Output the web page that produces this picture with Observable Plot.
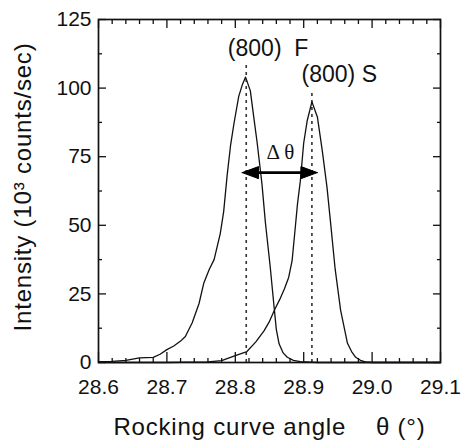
<!DOCTYPE html>
<html>
<head>
<meta charset="utf-8">
<script src="https://cdn.jsdelivr.net/npm/d3@7"></script>
<script src="https://cdn.jsdelivr.net/npm/@observablehq/plot@0.6"></script>
<style>
  html, body { margin: 0; padding: 0; background: #fff; }
  #chart { width: 463px; height: 441px; }
</style>
</head>
<body>
<div id="chart"></div>
<script>
// ---- data ----
const fAngle = [28.60, 28.62, 28.64, 28.66, 28.68, 28.69, 28.70, 28.71, 28.72, 28.727, 28.737, 28.747, 28.754, 28.762, 28.769, 28.778, 28.783, 28.788, 28.793, 28.798, 28.805, 28.810, 28.815, 28.822, 28.827, 28.832, 28.839, 28.844, 28.851, 28.857, 28.860, 28.864, 28.870, 28.876, 28.885, 28.895, 28.92, 29.10];
const fIntensity = [0.3, 0.4, 0.8, 1.7, 1.9, 3.0, 4.7, 6.0, 7.8, 9.5, 14.5, 21.5, 29, 34, 37.5, 47, 55, 68, 79, 87, 97, 101, 104, 99, 89.4, 80, 65, 51, 35, 19.5, 12, 6.8, 3.5, 1.9, 0.8, 0.3, 0, 0];

const sAngle = [28.60, 28.70, 28.76, 28.78, 28.80, 28.817, 28.83, 28.842, 28.85, 28.858, 28.865, 28.872, 28.878, 28.883, 28.888, 28.891, 28.895, 28.90, 28.905, 28.912, 28.92, 28.927, 28.934, 28.939, 28.946, 28.954, 28.959, 28.964, 28.970, 28.976, 28.983, 28.99, 29.00, 29.10];
const sIntensity = [0, 0, 0.2, 0.7, 2.5, 4.0, 7.5, 11.5, 15, 19.5, 23, 27, 31, 37, 50, 58, 66, 80, 88, 95, 89.5, 77.5, 64, 51.7, 34, 19, 13, 7, 4, 1.9, 0.8, 0.2, 0, 0];

const peakNames = ["(800)\u00A0\u00A0F", "(800)\u00A0S"];
const peakAngle = [28.816, 28.912];
const peakLineTop = [109, 99];
const peakLabelX = [28.848, 28.952];
const peakLabelY = [114.5, 105];

const deltaLabel = "\u0394 \u03B8";
const deltaLabelX = 28.866;
const deltaLabelY = 76.5;
const arrowFrom = 28.810;
const arrowTo = 28.920;
const arrowY = 69.2;

const xTicks = [28.6, 28.7, 28.8, 28.9, 29.0, 29.1];
const yTicks = [0, 25, 50, 75, 100, 125];
const xTitle = "Rocking curve angle\u00A0\u00A0\u00A0\u00A0\u03B8 (\u00B0)";
const yTitle = "Intensity (10\u00B3 counts/sec)";

// ---- derived tables ----
const fData = fAngle.map((a, i) => ({angle: a, intensity: fIntensity[i]}));
const sData = sAngle.map((a, i) => ({angle: a, intensity: sIntensity[i]}));
const peaks = peakNames.map((n, i) => ({name: n, angle: peakAngle[i], top: peakLineTop[i], lx: peakLabelX[i], ly: peakLabelY[i]}));
const xMinor = d3.range(0, 26).map(i => 28.6 + i * 0.02).filter(v => !xTicks.some(t => Math.abs(t - v) < 1e-6));
const yMinor = d3.range(0, 11).map(i => i * 12.5).filter(v => !yTicks.includes(v));

const headL = 0.024, headH = 2.2;
const heads = [
  {k: "l", x: arrowFrom, y: arrowY}, {k: "l", x: arrowFrom + headL, y: arrowY + headH}, {k: "l", x: arrowFrom + headL, y: arrowY - headH}, {k: "l", x: arrowFrom, y: arrowY},
  {k: "r", x: arrowTo, y: arrowY}, {k: "r", x: arrowTo - headL, y: arrowY + headH}, {k: "r", x: arrowTo - headL, y: arrowY - headH}, {k: "r", x: arrowTo, y: arrowY}
];

const blank = () => "";
const tickMarks = (ticks, major) => {
  const lenB = major ? -10 : -4, len = major ? -8 : -4;
  return [
    Plot.axisX(ticks, {anchor: "bottom", tickSize: lenB, tickFormat: blank, label: null, strokeWidth: 1.3}),
    Plot.axisX(ticks, {anchor: "top", tickSize: len, tickFormat: blank, label: null, strokeWidth: 1.3})
  ];
};
const tickMarksY = (ticks, major) => {
  const len = major ? -8 : -4;
  return [
    Plot.axisY(ticks, {anchor: "left", tickSize: len, tickFormat: blank, label: null, strokeWidth: 1.3}),
    Plot.axisY(ticks, {anchor: "right", tickSize: len, tickFormat: blank, label: null, strokeWidth: 1.3})
  ];
};

const chart = Plot.plot({
  width: 463,
  height: 441,
  marginLeft: 98,
  marginRight: 23,
  marginTop: 19,
  marginBottom: 79,
  x: {domain: [28.6, 29.1]},
  y: {domain: [0, 125]},
  style: {fontFamily: "'Liberation Sans', Arial, sans-serif", color: "#111", background: "#fff"},
  marks: [
    Plot.ruleX(peaks, {x: "angle", y1: 0, y2: "top", stroke: "#333", strokeWidth: 1.6, strokeDasharray: "3,4"}),
    Plot.line(fData, {x: "angle", y: "intensity", stroke: "#111", strokeWidth: 1.3}),
    Plot.line(sData, {x: "angle", y: "intensity", stroke: "#111", strokeWidth: 1.3}),
    Plot.link([{x1: arrowFrom + headL * 0.5, x2: arrowTo - headL * 0.5, y: arrowY}], {x1: "x1", x2: "x2", y1: "y", y2: "y", stroke: "#000", strokeWidth: 2.6}),
    Plot.line(heads, {x: "x", y: "y", z: "k", fill: "#000", stroke: "#000", strokeWidth: 1}),
    Plot.text(peaks, {x: "lx", y: "ly", text: "name", fontSize: 23, fill: "#111"}),
    Plot.text([deltaLabel], {x: () => deltaLabelX, y: () => deltaLabelY, text: d => d, fontSize: 21, fontFamily: "'Liberation Serif', 'Times New Roman', serif", fill: "#111"}),
    Plot.frame({stroke: "#111", strokeWidth: 1.7}),
    ...tickMarks(xTicks, true),
    ...tickMarks(xMinor, false),
    ...tickMarksY(yTicks, true),
    ...tickMarksY(yMinor, false),
    Plot.axisX(xTicks, {anchor: "bottom", tickSize: 0, tickPadding: 17, tickFormat: d3.format(".1f"), fontSize: 21, label: null}),
    Plot.axisY(yTicks, {anchor: "left", tickSize: 0, tickPadding: 7, fontSize: 21, label: null}),
    Plot.text([xTitle], {frameAnchor: "bottom", textAnchor: "middle", lineAnchor: "middle", dy: 65, text: d => d, fontSize: 24, fill: "#111"}),
    Plot.text([yTitle], {frameAnchor: "left", textAnchor: "middle", lineAnchor: "middle", rotate: -90, dx: -75, dy: -4, text: d => d, fontSize: 24, fill: "#111"})
  ]
});

chart.querySelectorAll("text").forEach(t => {
  const s = t.textContent;
  if (s === xTitle || s === yTitle) t.style.letterSpacing = "0.8px";
});

document.getElementById("chart").appendChild(chart);
</script>
</body>
</html>
